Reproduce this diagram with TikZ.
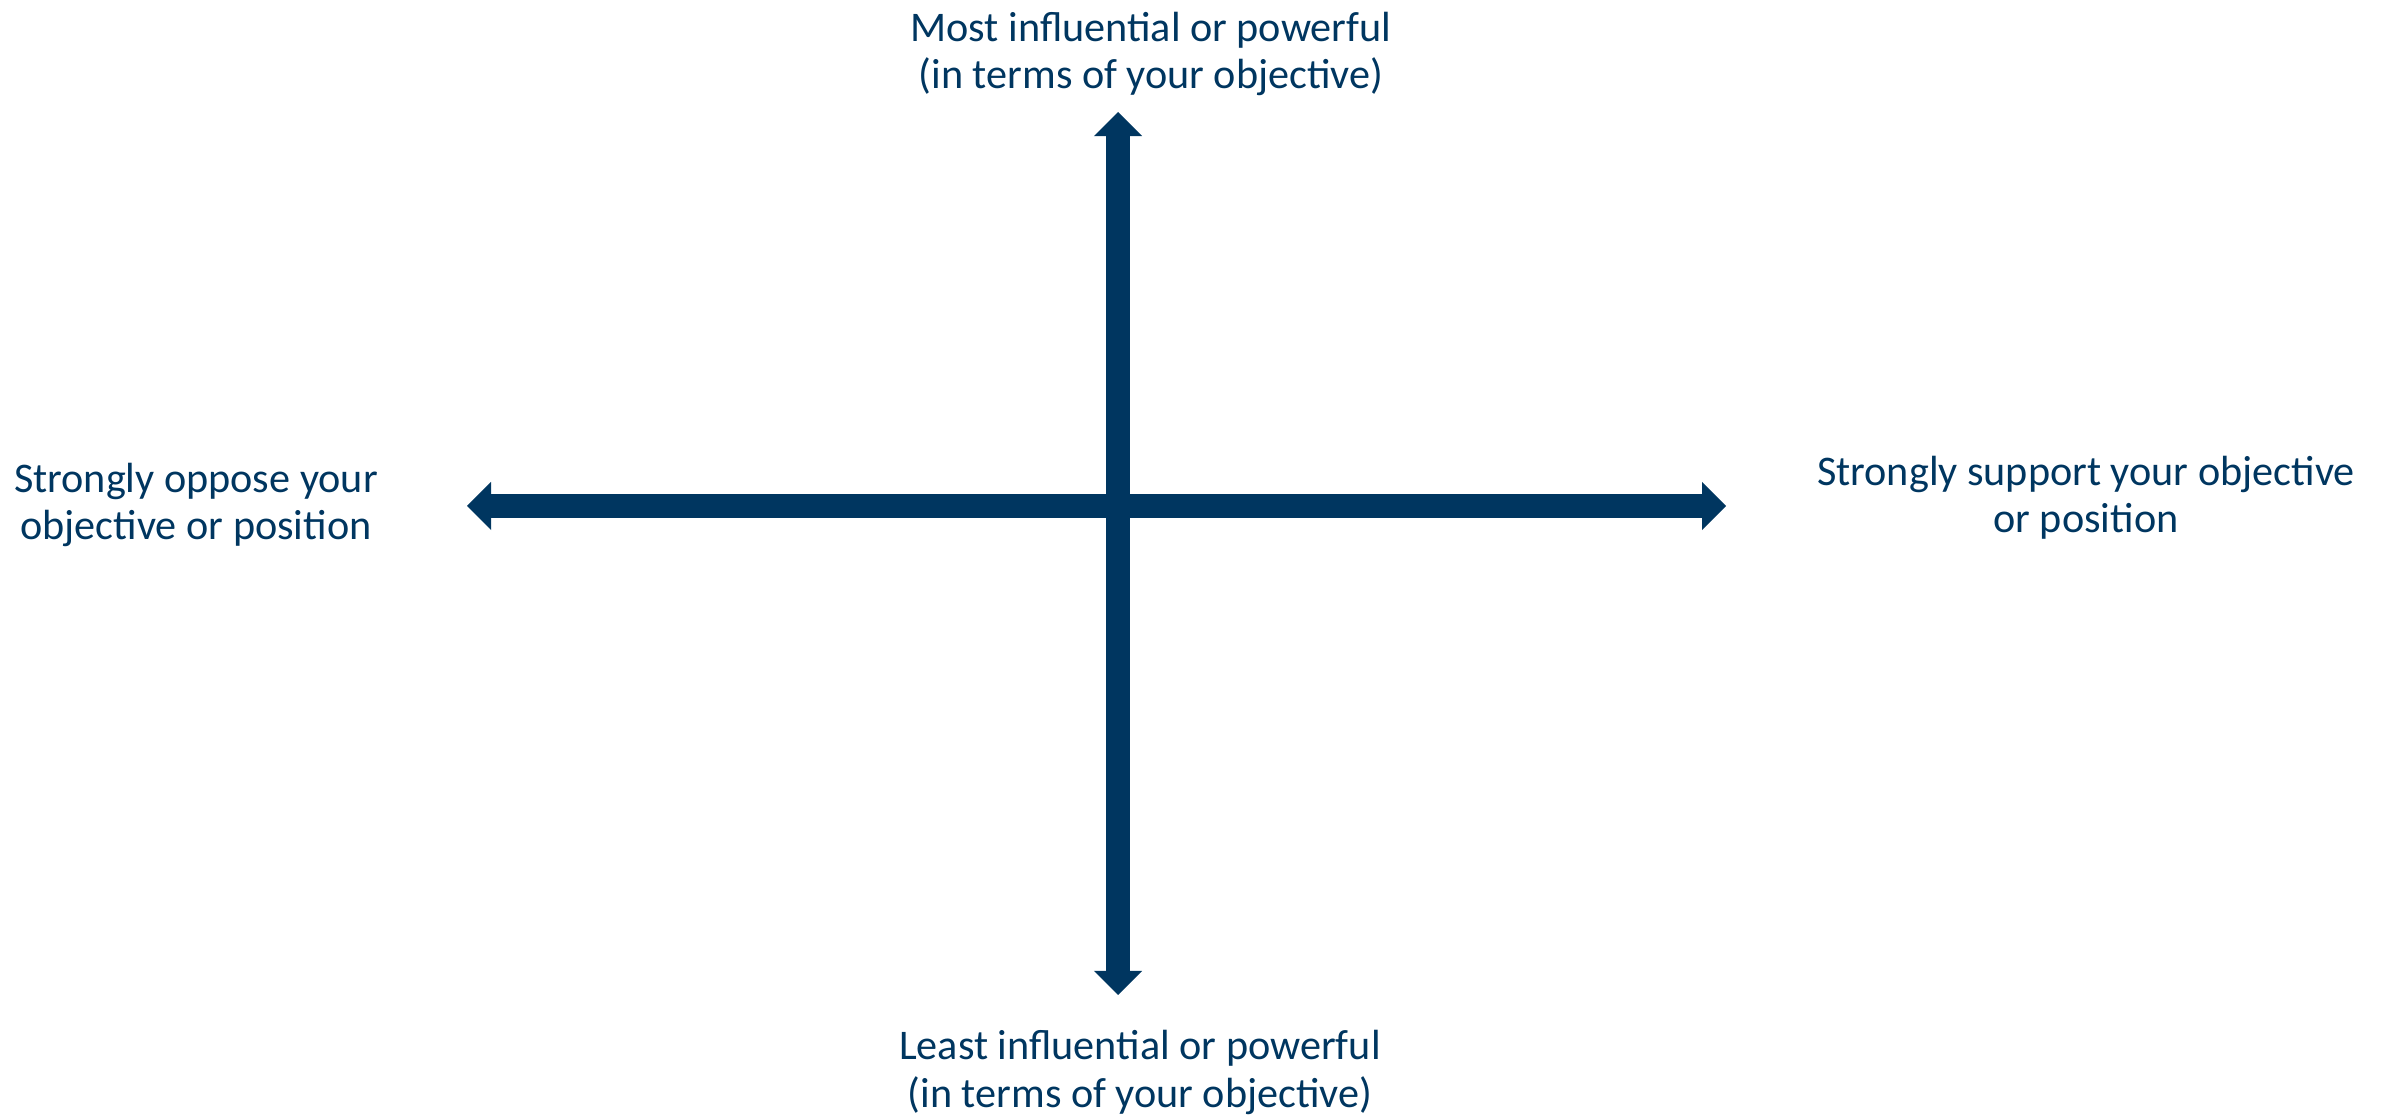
\documentclass[tikz,border=0pt]{standalone}
\usepackage{fontspec}
\setmainfont{Carlito}
\usetikzlibrary{arrows.meta}
\definecolor{navy}{RGB}{0,54,96}
\begin{document}
\begin{tikzpicture}[x=0.01cm,y=0.01cm]
\tikzset{axis/.style={navy, line width=.245cm, {Triangle[width=.48cm,length=.24cm,line width=0pt]}-{Triangle[width=.48cm,length=.24cm,line width=0pt]}},
  caption/.style={text=navy, align=center, inner sep=0pt, anchor=base, font=\fontsize{12}{13.4}\selectfont}}
    \useasboundingbox (0,0) rectangle (2387,-1119);
    \coordinate (top) at (1118,-112);
    \coordinate (bottom) at (1118,-995);
    \coordinate (left) at (467,-506);
    \coordinate (right) at (1726,-506);

    \node[caption] at (1151,-89) (most) {Most influential or powerful\\(in terms of your objective)};
    \node[caption] at (1140,-1107) (least) {Least influential or powerful\\(in terms of your objective)};
    \node[caption] at (196,-540) (oppose) {Strongly oppose your\\objective or position};
    \node[caption] at (2086,-533) (support) {Strongly support your objective\\or position};

    \path[axis] (bottom) edge (top);
    \path[axis] (left) edge (right);
\end{tikzpicture}
\end{document}
